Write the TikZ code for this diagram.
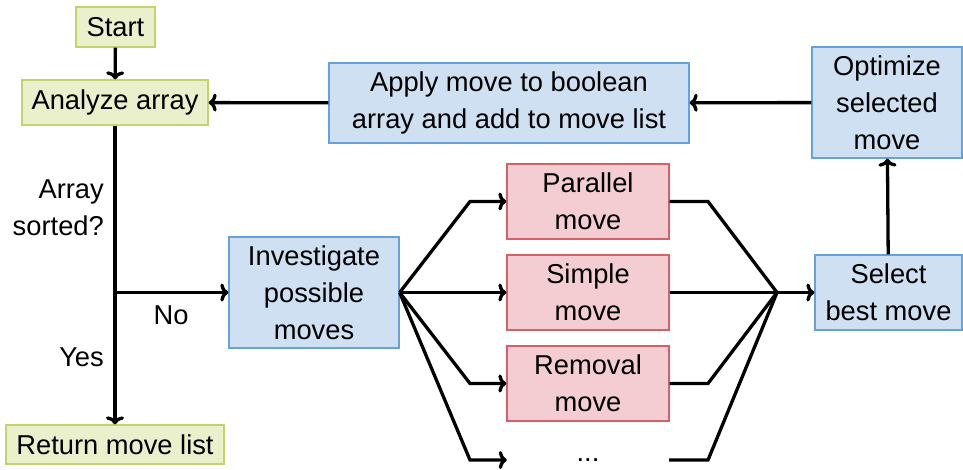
\documentclass[tikz,border=0pt]{standalone}
\usepackage{fontspec}
\setmainfont{Liberation Sans}
\usetikzlibrary{arrows.meta}
\definecolor{gfill}{RGB}{234,240,204}
\definecolor{gdraw}{RGB}{198,210,110}
\definecolor{bfill}{RGB}{206,224,242}
\definecolor{bdraw}{RGB}{104,160,218}
\definecolor{rfill}{RGB}{244,205,211}
\definecolor{rdraw}{RGB}{212,96,106}
\begin{document}
\begin{tikzpicture}[x=1pt,y=-1pt,
  every node/.style={font=\fontsize{27.3}{37}\selectfont, align=center, inner sep=0pt},
  gbox/.style={draw=gdraw, fill=gfill, line width=1.3pt},
  bbox/.style={draw=bdraw, fill=bfill, line width=1.3pt},
  rbox/.style={draw=rdraw, fill=rfill, line width=1.3pt},
  conn/.style={line width=3.3pt, line join=miter},
  arr/.style={conn, -{To[length=8pt,width=18pt]}},
  lbl/.style={font=\fontsize{27.3}{37}\selectfont}
]
\useasboundingbox (0,0) rectangle (963,469);
% nodes
\node[gbox, minimum width=79pt, minimum height=40pt] (start) at (115.5,27) {Start};
\node[gbox, minimum width=186pt, minimum height=45pt] (ana) at (115,102.5) {Analyze array};
\node[bbox, minimum width=360pt, minimum height=80pt] (app) at (509,103) {Apply move to boolean\\array and add to move list};
\node[bbox, minimum width=150pt, minimum height=111pt] (opt) at (887,102.5) {Optimize\\selected\\move};
\node[bbox, minimum width=170pt, minimum height=111pt] (inv) at (314,292.5) {Investigate\\possible\\moves};
\node[rbox, minimum width=162pt, minimum height=75pt] (par) at (588,201.5) {Parallel\\move};
\node[rbox, minimum width=162pt, minimum height=75pt] (sim) at (588,292.5) {Simple\\move};
\node[rbox, minimum width=162pt, minimum height=75pt] (rem) at (588,383.5) {Removal\\move};
\node[minimum width=162pt, minimum height=75pt] (dots) at (588,460) {...};
\node[bbox, minimum width=147pt, minimum height=75pt] (sel) at (888.5,292.5) {Select\\best move};
\node[gbox, minimum width=218pt, minimum height=39pt] (ret) at (115,444.5) {Return move list};
% labels
\node[lbl, align=right, anchor=east] (q) at (104,208) {Array\\sorted?};
\node[lbl] (no) at (171,315) {No};
\node[lbl, anchor=east] (yes) at (104,357) {Yes};
% coordinates
\coordinate (br) at (ana.south |- inv.west);
\coordinate (l1) at (470,201.5);
\coordinate (l3) at (470,383.5);
\coordinate (l4) at (470,460);
\coordinate (r1) at (708,201.5);
\coordinate (r3) at (708,383.5);
\coordinate (r4) at (708,460);
\coordinate (m) at (777,292.5);
% connectors
\draw[arr] (start) -- (ana);
\draw[arr] (ana) -- (ret);
\draw[arr] (br) -- (inv.west);
\draw[arr] (inv.east) -- (l1) -- (par.west);
\draw[arr] (inv.east) -- (sim.west);
\draw[arr] (inv.east) -- (l3) -- (rem.west);
\draw[arr] (inv.east) -- (l4) -- (dots.west);
\draw[conn] (par.east) -- (r1) -- (m);
\draw[conn] (rem.east) -- (r3) -- (m);
\draw[conn] (dots.east) -- (r4) -- (m);
\draw[conn] (sim.east) -- (m);
\draw[arr] (m) -- (sel.west);
\draw[arr] (sel) -- (opt);
\draw[arr] (opt) -- (app);
\draw[arr] (app) -- (ana);
\end{tikzpicture}
\end{document}
